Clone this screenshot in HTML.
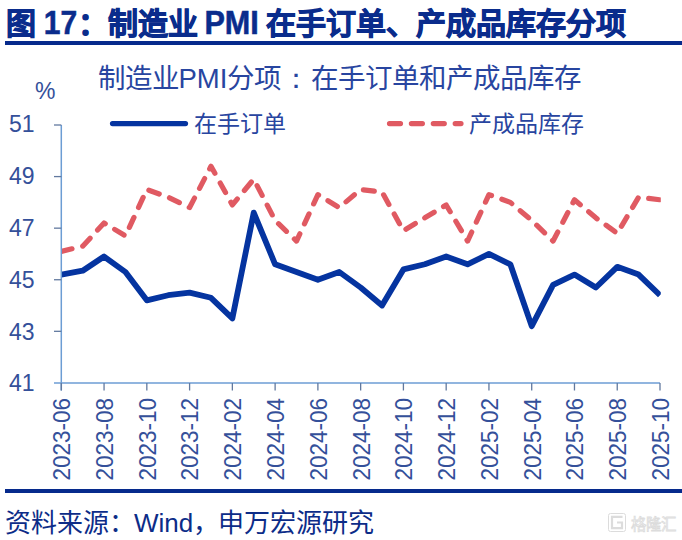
<!DOCTYPE html>
<html lang="zh-CN"><head><meta charset="utf-8"><title>制造业PMI分项</title><style>
html,body{margin:0;padding:0;background:#fff;}
body{width:682px;height:540px;overflow:hidden;position:relative;font-family:"Liberation Sans",sans-serif;}
svg{position:absolute;left:0;top:0;}
</style></head><body>
<svg width="682" height="540" viewBox="0 0 682 540" font-family="Liberation Sans, sans-serif">
<rect width="682" height="540" fill="#fff"/>
<g font-size="30" font-weight="bold" fill="#0a2c8c" stroke="#0a2c8c" stroke-width="0.9">
<text x="5.5" y="34">图</text>
<text transform="translate(43.8,34) scale(1,1.08)" stroke-width="0.5">17</text>
<text x="77.6" y="34">：制造业</text>
<text transform="translate(204.4,34) scale(1.02,1.12)" stroke-width="0.5">PMI</text>
<text x="265.6" y="34">在手订单、</text>
<text x="415.5" y="34">产成品库存分项</text>
</g>
<rect x="5" y="41" width="677" height="4" fill="#062a8c"/>
<text x="97.5" y="87.7" font-size="27.5" fill="#2845a0">制造业PMI分项<tspan lang="ja" dx="1">：</tspan><tspan dx="1">在手订单和产成品库存</tspan></text>
<text x="35" y="99" font-size="23" fill="#34509a">%</text>
<g font-size="23" fill="#34509a"><text transform="translate(34.6,132.40) scale(1,1.06)" text-anchor="end">51</text><text transform="translate(34.6,184.18) scale(1,1.06)" text-anchor="end">49</text><text transform="translate(34.6,235.96) scale(1,1.06)" text-anchor="end">47</text><text transform="translate(34.6,287.74) scale(1,1.06)" text-anchor="end">45</text><text transform="translate(34.6,339.52) scale(1,1.06)" text-anchor="end">43</text><text transform="translate(34.6,391.30) scale(1,1.06)" text-anchor="end">41</text></g>
<g font-size="22.5" fill="#34509a"><text transform="translate(70.20,398) rotate(-90) scale(1,1.07)" text-anchor="end">2023-06</text><text transform="translate(112.96,398) rotate(-90) scale(1,1.07)" text-anchor="end">2023-08</text><text transform="translate(155.73,398) rotate(-90) scale(1,1.07)" text-anchor="end">2023-10</text><text transform="translate(198.49,398) rotate(-90) scale(1,1.07)" text-anchor="end">2023-12</text><text transform="translate(241.26,398) rotate(-90) scale(1,1.07)" text-anchor="end">2024-02</text><text transform="translate(284.02,398) rotate(-90) scale(1,1.07)" text-anchor="end">2024-04</text><text transform="translate(326.79,398) rotate(-90) scale(1,1.07)" text-anchor="end">2024-06</text><text transform="translate(369.55,398) rotate(-90) scale(1,1.07)" text-anchor="end">2024-08</text><text transform="translate(412.31,398) rotate(-90) scale(1,1.07)" text-anchor="end">2024-10</text><text transform="translate(455.08,398) rotate(-90) scale(1,1.07)" text-anchor="end">2024-12</text><text transform="translate(497.84,398) rotate(-90) scale(1,1.07)" text-anchor="end">2025-02</text><text transform="translate(540.61,398) rotate(-90) scale(1,1.07)" text-anchor="end">2025-04</text><text transform="translate(583.37,398) rotate(-90) scale(1,1.07)" text-anchor="end">2025-06</text><text transform="translate(626.14,398) rotate(-90) scale(1,1.07)" text-anchor="end">2025-08</text><text transform="translate(668.90,398) rotate(-90) scale(1,1.07)" text-anchor="end">2025-10</text></g>

<line x1="112.5" y1="123.6" x2="185.5" y2="123.6" stroke="#0534a0" stroke-width="5.2" stroke-linecap="round"/>
<text x="194" y="132" font-size="23" fill="#2845a0">在手订单</text>
<line x1="389.5" y1="123.6" x2="461" y2="123.6" stroke="#e05a62" stroke-width="5.2" stroke-linecap="round" stroke-dasharray="11 10.9"/>
<text x="469" y="132" font-size="23" fill="#2845a0">产成品库存</text>
<defs><clipPath id="pa"><rect x="61.3" y="100" width="599.5" height="300"/></clipPath></defs>
<g clip-path="url(#pa)">
<polyline points="61.30,251.37 82.68,246.21 104.06,223.00 125.45,235.90 146.83,189.47 168.21,197.21 189.59,207.53 210.98,166.26 232.36,204.95 253.74,179.16 275.12,220.42 296.50,241.06 317.89,194.63 339.27,207.53 360.65,189.47 382.03,192.05 403.41,230.74 424.80,217.84 446.18,204.95 467.56,241.06 488.94,194.63 510.33,202.37 531.71,220.42 553.09,241.06 574.47,199.79 595.85,217.84 617.24,233.32 638.62,197.21 660.00,199.79" fill="none" stroke="#e05a62" stroke-width="5.2" stroke-linecap="round" stroke-linejoin="round" stroke-dasharray="11 10.97"/>
<polyline points="61.30,274.58 82.68,270.71 104.06,256.53 125.45,272.00 146.83,300.37 168.21,295.21 189.59,292.63 210.98,297.79 232.36,318.42 253.74,212.69 275.12,264.27 296.50,272.00 317.89,279.74 339.27,272.00 360.65,287.48 382.03,305.53 403.41,269.42 424.80,264.27 446.18,256.53 467.56,264.27 488.94,253.95 510.33,264.27 531.71,326.16 553.09,284.90 574.47,274.58 595.85,287.48 617.24,266.84 638.62,274.58 660.00,295.21" fill="none" stroke="#0534a0" stroke-width="5.8" stroke-linecap="butt" stroke-linejoin="round"/>
</g>
<g stroke="#6c9dd4" stroke-width="1.5" fill="none">
<line x1="61.3" y1="125.00" x2="61.3" y2="390.5"/>
<line x1="54" y1="383" x2="660" y2="383"/>
</g><g stroke="#62799f" stroke-width="1.3" fill="none"><line x1="54" y1="125.00" x2="61.3" y2="125.00"/><line x1="54" y1="176.58" x2="61.3" y2="176.58"/><line x1="54" y1="228.16" x2="61.3" y2="228.16"/><line x1="54" y1="279.74" x2="61.3" y2="279.74"/><line x1="54" y1="331.32" x2="61.3" y2="331.32"/><line x1="61.30" y1="383" x2="61.30" y2="390.5"/><line x1="104.06" y1="383" x2="104.06" y2="390.5"/><line x1="146.83" y1="383" x2="146.83" y2="390.5"/><line x1="189.59" y1="383" x2="189.59" y2="390.5"/><line x1="232.36" y1="383" x2="232.36" y2="390.5"/><line x1="275.12" y1="383" x2="275.12" y2="390.5"/><line x1="317.89" y1="383" x2="317.89" y2="390.5"/><line x1="360.65" y1="383" x2="360.65" y2="390.5"/><line x1="403.41" y1="383" x2="403.41" y2="390.5"/><line x1="446.18" y1="383" x2="446.18" y2="390.5"/><line x1="488.94" y1="383" x2="488.94" y2="390.5"/><line x1="531.71" y1="383" x2="531.71" y2="390.5"/><line x1="574.47" y1="383" x2="574.47" y2="390.5"/><line x1="617.24" y1="383" x2="617.24" y2="390.5"/><line x1="660.00" y1="383" x2="660.00" y2="390.5"/>
</g>
<rect x="5" y="489" width="677" height="4" fill="#062a8c"/>
<text x="5" y="531.5" font-size="26" fill="#0c2c88">资料来源：<tspan dx="-1">Wind</tspan>，<tspan dx="-1">申万宏源研究</tspan></text>
<g fill="none" stroke="#dcdcdc" stroke-width="1">
<rect x="608.5" y="513.5" width="17" height="18" rx="2"/>
<path d="M622.5 516.8 H612 V528.2 H622 V522.5 H617" stroke-width="2.2"/>
<text x="630.8" y="530.2" font-size="15.4" fill="#fff" stroke-width="0.8">格隆汇</text>
</g>
</svg>
</body></html>
